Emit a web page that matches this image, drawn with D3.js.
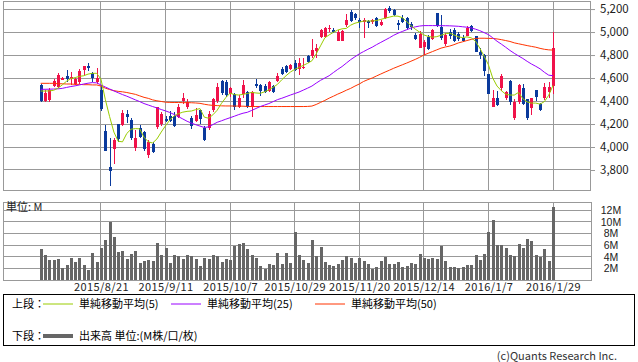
<!DOCTYPE html>
<html>
<head>
<meta charset="utf-8">
<script src="https://cdn.jsdelivr.net/npm/d3@7"></script>
<style>
body { margin: 0; background: #fff; }
svg { display: block; font-family: "Noto Sans CJK JP", sans-serif; }
</style>
</head>
<body>
<svg width="638" height="362"></svg>
<script>
// daily candles, 120 sessions ending 2016/1/29
var opens = [4539,4403,4409,4533,4525,4586,4620,4591,4545,4562,4670,4704,4646,4562,4493,4139,3823,3983,4200,4194,
  4287,4235,3988,4165,4127,3930,4023,4171,4203,4243,4272,4272,4264,4403,4345,4255,4229,4322,4165,4162,
  4322,4397,4574,4562,4458,4458,4351,4458,4475,4345,4551,4539,4533,4487,4527,4577,4675,4704,4678,4727,
  4678,4684,4791,4788,4835,4959,4959,5023,5017,4925,4925,5061,5177,5154,5104,5090,5096,5090,5119,5061,
  5119,5206,5191,5075,5119,5119,5067,4974,4864,4872,4959,4942,5165,5046,4893,4997,5020,4983,4951,4968,
  5049,4962,4829,4800,4632,4351,4429,4510,4429,4574,4249,4391,4516,4420,4339,4496,4374,4423,4475,4530];
var highs = [4545,4496,4510,4591,4640,4610,4670,4650,4597,4678,4704,4730,4655,4687,4536,4191,4078,4081,4200,4319,
  4319,4249,4148,4194,4139,4061,4046,4351,4301,4272,4313,4301,4371,4467,4414,4270,4342,4328,4180,4313,
  4423,4559,4583,4583,4525,4467,4452,4583,4487,4487,4591,4551,4545,4574,4539,4640,4698,4713,4719,4756,
  4777,4771,4800,4939,4893,5026,5046,5061,5037,5017,5017,5153,5191,5162,5119,5119,5104,5110,5133,5104,
  5206,5226,5200,5104,5148,5133,5090,4988,5009,4930,4974,5023,5165,5148,4988,5026,5032,4997,4970,5049,
  5061,4968,4864,4809,4638,4496,4490,4635,4487,4583,4417,4551,4551,4420,4429,4496,4383,4559,4562,5000];
var lows = [4395,4388,4394,4519,4510,4580,4562,4539,4535,4551,4626,4661,4562,4551,4313,3968,3664,3852,4046,4180,
  4206,4061,3968,4078,3968,3901,3945,4156,4185,4214,4214,4177,4249,4377,4330,4156,4214,4200,4049,4148,
  4307,4380,4452,4438,4438,4322,4336,4426,4336,4264,4510,4446,4467,4475,4467,4568,4626,4640,4670,4661,
  4626,4675,4727,4774,4777,4951,4951,5003,4988,4919,4919,5046,5084,5104,5038,4945,5032,5070,5046,5055,
  5113,5162,5139,5017,5075,5017,5017,4930,4858,4800,4843,4928,5040,4930,4878,4939,4910,4925,4915,4962,
  4997,4823,4765,4614,4464,4345,4357,4487,4409,4365,4235,4377,4362,4235,4275,4397,4316,4409,4423,4460];
var closes = [4403,4472,4496,4574,4626,4600,4591,4606,4591,4661,4704,4684,4597,4600,4330,3968,3794,4063,4066,4298,
  4264,4075,4081,4084,3980,4041,3959,4345,4284,4229,4229,4185,4348,4426,4394,4185,4281,4243,4058,4290,
  4414,4525,4467,4452,4510,4351,4429,4539,4351,4475,4533,4487,4481,4562,4481,4617,4632,4655,4713,4670,
  4727,4698,4742,4843,4864,5017,5032,5032,4997,5003,5009,5104,5098,5125,5084,5104,5075,5104,5055,5090,
  5200,5183,5148,5061,5090,5032,5046,4939,4985,4916,4852,5015,5050,4945,4974,4968,4925,4939,4925,5032,
  5011,4829,4803,4664,4464,4429,4365,4617,4475,4388,4394,4536,4377,4249,4423,4438,4325,4525,4525,4860];
// volume, millions
var volume = [5.3,4.3,3.4,3.5,3.7,2.1,2.6,3.8,3.1,3.8,2.6,1.8,4.7,3.1,5.6,6.9,10.0,7.4,4.9,5.0,
  3.7,4.5,5.0,3.0,3.3,3.5,3.3,6.4,4.3,5.5,3.0,4.3,4.1,3.7,4.3,4.2,3.7,2.5,3.9,3.7,
  4.3,4.2,3.2,3.7,3.4,5.8,6.2,6.4,5.4,4.3,3.9,2.5,1.9,2.8,2.6,4.7,2.8,4.7,3.0,8.3,
  4.3,3.5,3.0,6.9,4.2,5.7,3.2,2.6,2.5,2.8,3.5,4.2,3.8,3.0,3.8,3.3,2.8,1.9,2.3,3.3,
  4.0,2.8,2.8,3.1,2.3,2.5,3.0,2.8,4.5,3.8,3.7,3.8,3.7,5.9,3.3,2.3,2.3,2.1,2.3,2.6,
  2.6,4.3,3.5,4.5,8.3,10.3,6.1,6.1,5.5,4.3,4.2,6.2,5.5,7.1,6.7,4.3,4.0,5.4,3.3,12.6];
var ma5 = [4487,4487,4488,4493,4512,4540,4572,4595,4604,4614,4620,4634,4641,4641,4590,4415,4265,4130,4050,4045,
  4118,4155,4160,4158,4085,4045,4035,4070,4130,4185,4235,4270,4290,4303,4310,4313,4325,4334,4260,4250,
  4280,4320,4380,4430,4468,4456,4452,4458,4465,4475,4470,4467,4480,4498,4520,4545,4585,4620,4652,4675,
  4692,4710,4728,4750,4810,4880,4950,4975,4998,5017,5028,5032,5060,5077,5086,5095,5096,5096,5100,5110,
  5120,5130,5139,5138,5125,5092,5055,5025,5000,4975,4962,4955,4960,4972,4985,4990,4975,4958,4952,4958,
  4950,4920,4860,4790,4715,4600,4530,4490,4460,4452,4452,4475,4420,4392,4382,4382,4373,4395,4450,4535];
var ma25 = [4502,4502,4503,4504,4506,4510,4518,4526,4532,4540,4548,4555,4560,4558,4540,4522,4505,4488,4472,4456,
  4442,4426,4410,4395,4378,4365,4352,4340,4326,4314,4300,4283,4264,4244,4224,4208,4194,4182,4170,4175,
  4195,4215,4228,4242,4255,4268,4282,4294,4302,4318,4335,4352,4365,4378,4395,4412,4424,4438,4452,4465,
  4478,4495,4512,4530,4556,4580,4600,4620,4648,4675,4700,4730,4760,4785,4810,4830,4850,4868,4890,4910,
  4930,4950,4972,4990,5005,5020,5035,5045,5052,5056,5056,5056,5056,5055,5055,5054,5052,5050,5046,5042,
  5036,5025,5012,4995,4978,4950,4920,4895,4868,4840,4815,4792,4770,4745,4722,4702,4680,4650,4625,4620];
var ma50 = [4554,4554,4554,4554,4550,4550,4548,4548,4545,4545,4542,4542,4540,4540,4530,4512,4500,4490,4484,4480,
  4474,4466,4458,4445,4432,4423,4410,4402,4396,4390,4388,4387,4387,4386,4386,4385,4383,4380,4372,4366,
  4362,4360,4358,4357,4357,4356,4356,4355,4353,4352,4352,4352,4352,4352,4352,4352,4352,4352,4352,4352,
  4352,4352,4353,4356,4370,4388,4405,4425,4442,4460,4476,4494,4510,4530,4548,4570,4586,4600,4618,4635,
  4652,4668,4685,4700,4715,4730,4746,4762,4780,4800,4815,4830,4845,4860,4870,4878,4890,4905,4915,4926,
  4936,4944,4946,4946,4945,4944,4940,4934,4926,4918,4906,4898,4890,4882,4875,4868,4858,4850,4845,4843];

var tickIndex = [14, 29, 44, 59, 74, 89, 104, 119];
var tickLabels = ["2015/8/21", "2015/9/11", "2015/10/7", "2015/10/29", "2015/11/20", "2015/12/14", "2016/1/7", "2016/1/29"];
var priceTicks = [3800, 4000, 4200, 4400, 4600, 4800, 5000, 5200];
var volTicks = [2, 4, 6, 8, 10, 12];

var svg = d3.select("svg");
var grid = "#999";

var x = d3.scaleLinear().domain([0, 119]).range([40.7, 553]);
var y = d3.scaleLinear().domain([3626, 5270]).range([190, 1]);
var yv = d3.scaleLinear().domain([0, 13.37]).range([280.3, 202.3]);

// upper panel grid
var upper = svg.append("g").attr("shape-rendering", "crispEdges");
upper.selectAll(".hg").data(priceTicks).enter().append("line")
    .attr("x1", 3).attr("x2", 590)
    .attr("y1", function(d) { return y(d); }).attr("y2", function(d) { return y(d); })
    .attr("stroke", grid);
upper.selectAll(".vg").data(tickIndex).enter().append("line")
    .attr("x1", function(d) { return x(d); }).attr("x2", function(d) { return x(d); })
    .attr("y1", 1).attr("y2", 190)
    .attr("stroke", grid);
upper.append("rect").attr("x", 3).attr("y", 1).attr("width", 587).attr("height", 189)
    .attr("fill", "none").attr("stroke", grid);

var ya = svg.append("g").attr("transform", "translate(590,0)")
    .call(d3.axisRight(y).tickValues(priceTicks).tickSize(5).tickPadding(5).tickFormat(d3.format(",")));
ya.select(".domain").remove();
ya.selectAll("line").attr("stroke", grid);
ya.selectAll("text").attr("font-size", 11.5).attr("fill", "#222").attr("font-family", "Noto Sans CJK JP");

// candles
var idx = d3.range(opens.length);
var cg = svg.append("g").attr("shape-rendering", "crispEdges");
var col = function(i) { return closes[i] >= opens[i] ? "#f0124a" : "#0a3a9c"; };
cg.selectAll(".wick").data(idx).enter().append("line")
    .attr("x1", function(i) { return Math.round(x(i)) + 0.5; })
    .attr("x2", function(i) { return Math.round(x(i)) + 0.5; })
    .attr("y1", function(i) { return y(highs[i]); })
    .attr("y2", function(i) { return y(lows[i]); })
    .attr("stroke", col);
cg.selectAll(".body").data(idx).enter().append("rect")
    .attr("x", function(i) { return Math.round(x(i)) - 1; })
    .attr("width", 3)
    .attr("y", function(i) { return y(Math.max(opens[i], closes[i])); })
    .attr("height", function(i) { return Math.max(1, Math.abs(y(opens[i]) - y(closes[i]))); })
    .attr("fill", col);

// moving averages
var line = d3.line().x(function(d, i) { return x(i); }).y(function(d) { return y(d); });
[[ma50, "#ff3300"], [ma25, "#9900ff"], [ma5, "#99cc00"]].forEach(function(s) {
  svg.append("path").datum(s[0]).attr("d", line)
      .attr("fill", "none").attr("stroke", s[1]).attr("stroke-width", 1);
});

// volume panel
var vg = svg.append("g").attr("shape-rendering", "crispEdges");
vg.selectAll(".hg").data(volTicks).enter().append("line")
    .attr("x1", 3).attr("x2", 591)
    .attr("y1", function(d) { return yv(d); }).attr("y2", function(d) { return yv(d); })
    .attr("stroke", grid);
vg.selectAll(".vg").data(tickIndex).enter().append("line")
    .attr("x1", function(d) { return x(d); }).attr("x2", function(d) { return x(d); })
    .attr("y1", 202).attr("y2", 280)
    .attr("stroke", grid);
vg.append("rect").attr("x", 3).attr("y", 202).attr("width", 588).attr("height", 78)
    .attr("fill", "none").attr("stroke", grid);
vg.selectAll(".bar").data(volume).enter().append("rect")
    .attr("x", function(d, i) { return Math.round(x(i)) - 1; })
    .attr("width", 3)
    .attr("y", function(d) { return yv(d); })
    .attr("height", function(d) { return yv(0) - yv(d); })
    .attr("fill", "#666");

svg.selectAll(".vl").data(volTicks).enter().append("text")
    .attr("x", 611).attr("y", function(d) { return yv(d); }).attr("dy", "0.35em")
    .attr("text-anchor", "middle").attr("font-size", 10.5).attr("fill", "#222")
    .attr("font-family", "Liberation Sans")
    .text(function(d) { return d + "M"; });

svg.append("text").attr("x", 6).attr("y", 211).attr("font-size", 11).attr("fill", "#222").text("単位: M");

var xa = svg.append("g").attr("transform", "translate(0,280)")
    .call(d3.axisBottom(x).tickValues(tickIndex).tickSize(0).tickPadding(3)
      .tickFormat(function(d, i) { return tickLabels[i]; }));
xa.select(".domain").remove();
xa.selectAll("text").attr("font-size", 11).attr("fill", "#222").attr("letter-spacing", 0.4)
    .attr("font-family", "Noto Sans CJK JP");

// legend
var lg = svg.append("g");
lg.append("rect").attr("x", 3.5).attr("y", 294.5).attr("width", 631).attr("height", 51)
    .attr("fill", "none").attr("stroke", "#000");
lg.append("text").attr("x", 12).attr("y", 308).attr("font-size", 11).text("上段：");
lg.append("text").attr("x", 12).attr("y", 340).attr("font-size", 11).text("下段：");
var items = [["単純移動平均(5)", "#99cc00", 43], ["単純移動平均(25)", "#9900ff", 171], ["単純移動平均(50)", "#ff3300", 315]];
items.forEach(function(it) {
  lg.append("line").attr("x1", it[2]).attr("x2", it[2] + 30).attr("y1", 304).attr("y2", 304)
      .attr("stroke", it[1]);
  lg.append("text").attr("x", it[2] + 36).attr("y", 308).attr("font-size", 11).text(it[0]);
});
lg.append("line").attr("x1", 43).attr("x2", 73).attr("y1", 336).attr("y2", 336)
    .attr("stroke", "#666").attr("stroke-width", 4);
lg.append("text").attr("x", 79).attr("y", 340).attr("font-size", 11).text("出来高 単位:(M株/口/枚)");

svg.append("text").attr("x", 617).attr("y", 360).attr("text-anchor", "end")
    .attr("font-size", 11).attr("fill", "#333").text("(c)Quants Research Inc.");
</script>
</body>
</html>
